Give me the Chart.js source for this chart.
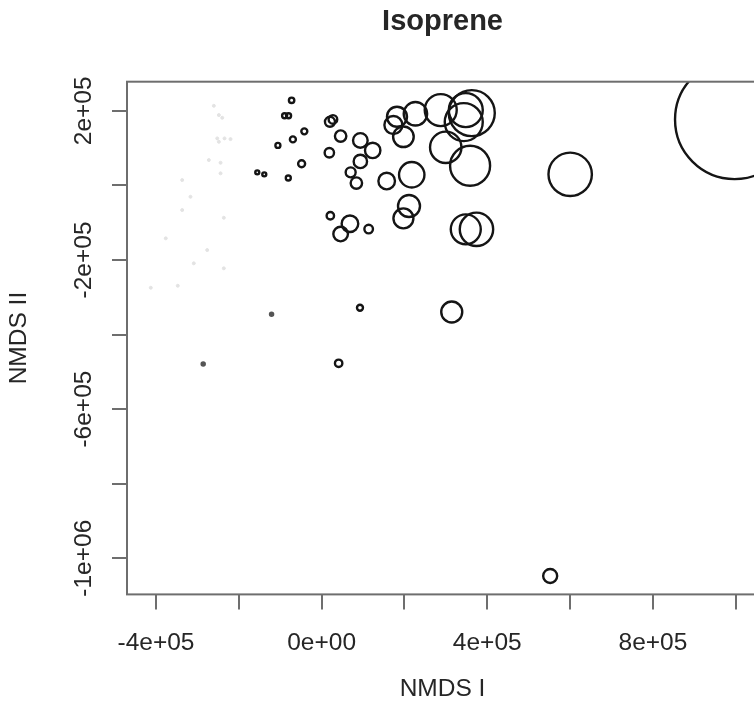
<!DOCTYPE html>
<html>
<head>
<meta charset="utf-8">
<title>Isoprene</title>
<script src="https://cdn.jsdelivr.net/npm/chart.js@4.4.1/dist/chart.umd.min.js"></script>
<style>
	html, body { margin: 0; padding: 0; background: #fff; overflow: hidden; }
	#nmds-chart { display: block; }
</style>
</head>
<body>
<canvas id="nmds-chart" width="820" height="711"></canvas>
<script>
// Open circles: NMDS coordinates and symbol radius (px)
const ringX = [-72500, -89400, -79800, -41800, -69400, -105600, -48300, -155400, -138500, -80500,
	20100, 27300, 45900, 18600, 93500, 123300, 93500, 70100, 83900, 157100,
	217600, 182000, 173300, 197500, 226500, 287600, 348100, 362600, 343200, 299700,
	358500, 21000, 68400, 45900, 113600, 211000, 197500, 348100, 373900, 600200,
	997100, 92600, 41100, 314200, 551900];
const ringY = [228000, 186600, 186600, 144800, 123300, 107200, 57900, 34900, 29500, 19600,
	170500, 176900, 132200, 87400, 120600, 93800, 64300, 34900, 6200, 11500,
	28400, 183900, 161700, 130300, 192000, 201900, 201900, 193800, 169700, 101900,
	52500, -81500, -102900, -130600, -117200, -55500, -88500, -118000, -118000, 29500,
	176400, -328200, -477200, -339700, -1047500];
const ringR = [2.7, 2.5, 2.5, 3, 3, 2.5, 3.5, 2, 2, 2.5,
	5, 4.3, 5.7, 4.7, 7.3, 7.7, 6.7, 5, 5.7, 8.3,
	12.7, 10, 9, 10.3, 11.7, 16, 17, 23, 19, 15.7,
	20, 3.7, 8.3, 7.3, 4.3, 11, 10, 15, 16.7, 21.7,
	59.5, 3, 3.7, 10.5, 7];

// Small grey dots
const greyX = [-120900, -286000];
const greyY = [-345800, -479100];
const greyR = [2, 2];

// Very faint dots on the left
const faintX = [-260300, -248200, -240000, -252100, -234500, -220000, -248200, -272400, -244100, -336700,
	-244100, -316700, -336700, -236200, -376400, -276300, -308700, -236200, -412500, -347400];
const faintY = [213400, 188500, 181200, 126000, 126000, 124100, 116900, 67800, 60600, 14200,
	32200, -30600, -66200, -86900, -142100, -173500, -209100, -222500, -274500, -269200];
const faintR = 1.5;

// Axis ranges and ticks
const xMin = -470000;
const xMax = 1054000;
const yMin = -1097000;
const yMax = 278000;
const xTickValues = [-400000, -200000, 0, 200000, 400000, 600000, 800000, 1000000];
const xTickLabels = ["-4e+05", "", "0e+00", "", "4e+05", "", "8e+05", ""];
const yTickValues = [-1000000, -800000, -600000, -400000, -200000, 0, 200000];
const yTickLabels = ["-1e+06", "", "-6e+05", "", "-2e+05", "", "2e+05"];

const fontFamily = "'Liberation Sans', Arial, Helvetica, sans-serif";
const axisFont = { family: fontFamily, size: 24.5 };
const textColor = "#262626";
const lineGrey = "#6e6e6e";

// right edge of the plot box, a little past the page edge
const plotRight = 757;

function toPoints(xs, ys, rs) {
	return xs.map((x, i) => ({ x: x, y: ys[i], r: Array.isArray(rs) ? rs[i] : rs }));
}

// Box round the plot region
const plotBox = {
	id: "plotBox",
	afterDraw(chart) {
		const a = chart.chartArea;
		const ctx = chart.ctx;
		ctx.save();
		ctx.strokeStyle = lineGrey;
		ctx.lineWidth = 2;
		ctx.strokeRect(a.left, a.top, a.right - a.left, a.bottom - a.top);
		ctx.restore();
	},
};

const tickGrid = {
	drawOnChartArea: false,
	drawTicks: true,
	tickLength: 15,
	color: lineGrey,
	lineWidth: 2,
};

const chartConfig = {
	type: "bubble",
	data: {
		datasets: [
			{
				data: toPoints(faintX, faintY, faintR),
				backgroundColor: "#e3e3e3",
				borderColor: "#e3e3e3",
				borderWidth: 1,
				clip: 0,
			},
			{
				data: toPoints(greyX, greyY, greyR),
				backgroundColor: "#555",
				borderColor: "#555",
				borderWidth: 1.5,
				clip: 0,
			},
			{
				data: toPoints(ringX, ringY, ringR),
				backgroundColor: "rgba(0,0,0,0)",
				borderColor: "#151515",
				borderWidth: 2.4,
				clip: 0,
			},
		],
	},
	options: {
		responsive: false,
		animation: false,
		events: [],
		layout: { padding: { left: 0, top: 0, bottom: 0, right: 23 } },
		plugins: {
			legend: { display: false },
			tooltip: { enabled: false },
			title: {
				display: true,
				text: "Isoprene",
				fullSize: false,
				color: textColor,
				font: { family: fontFamily, size: 29, weight: "bold" },
				padding: { top: 4.5, bottom: 42.4 },
			},
		},
		scales: {
			x: {
				type: "linear",
				position: "bottom",
				min: xMin,
				max: xMax,
				bounds: "data",
				afterBuildTicks: (scale) => {
					scale.ticks = xTickValues.map((v) => ({ value: v }));
				},
				afterFit: (scale) => {
					scale.height = 116.6;
					scale.paddingLeft = 0;
					scale.paddingRight = 0;
				},
				ticks: {
					autoSkip: false,
					minRotation: 0,
					maxRotation: 0,
					padding: 19,
					color: textColor,
					font: axisFont,
					callback: (value, index) => xTickLabels[index],
				},
				grid: tickGrid,
				border: { display: false },
				title: {
					display: true,
					text: "NMDS I",
					color: textColor,
					font: axisFont,
					padding: { top: 0, bottom: 6.6 },
				},
			},
			y: {
				type: "linear",
				position: "left",
				min: yMin,
				max: yMax,
				bounds: "data",
				afterBuildTicks: (scale) => {
					scale.ticks = yTickValues.map((v) => ({ value: v }));
				},
				afterFit: (scale) => {
					scale.width = 127;
					scale.paddingTop = 0;
					scale.paddingBottom = 0;
				},
				ticks: {
					autoSkip: false,
					minRotation: 90,
					maxRotation: 90,
					crossAlign: "center",
					padding: -11,
					color: textColor,
					font: axisFont,
					callback: (value, index) => yTickLabels[index],
				},
				grid: tickGrid,
				border: { display: false },
				title: {
					display: true,
					text: "NMDS II",
					color: textColor,
					font: axisFont,
					padding: { top: 4.6, bottom: 0 },
				},
			},
		},
	},
	plugins: [plotBox],
};

let nmdsChart = new Chart(document.getElementById("nmds-chart"), chartConfig);

// Nudge the right padding so the plot box ends at plotRight
chartConfig.options.layout.padding.right += nmdsChart.chartArea.right - plotRight;
nmdsChart.update();
</script>
</body>
</html>
